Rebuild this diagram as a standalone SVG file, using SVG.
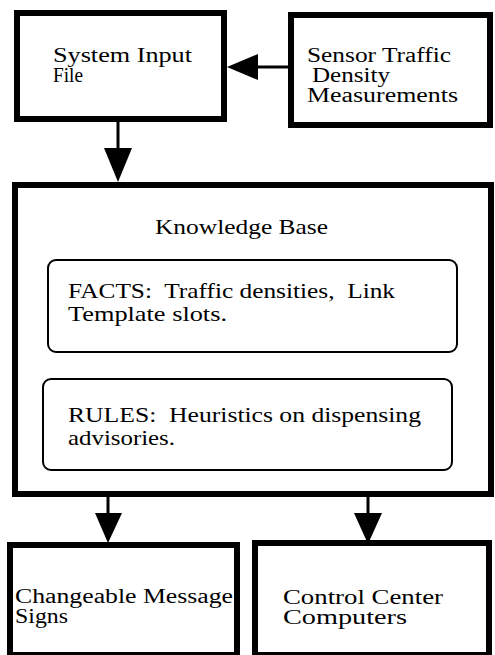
<svg xmlns="http://www.w3.org/2000/svg" width="495" height="655" viewBox="0 0 495 655">
<style>
.box{fill:#fff;stroke:#000;stroke-width:6}
.inner{fill:#fff;stroke:#000;stroke-width:2}
.t{font-family:"Liberation Serif","Times New Roman",serif;font-size:20px;fill:#000;white-space:pre}
.k{font-size:22px}
.ln{stroke:#000;stroke-width:3;fill:none}
.ah{fill:#000}
</style>
<rect width="495" height="655" fill="#fff"/>
<g id="connectors">
<line class="ln" x1="290" y1="67" x2="256" y2="67"/>
<polygon class="ah" points="227,67 258,54 258,80"/>
<line class="ln" x1="118" y1="122" x2="118" y2="150"/>
<polygon class="ah" points="104,148 132,148 118,182"/>
<line class="ln" x1="108" y1="496" x2="108" y2="515"/>
<polygon class="ah" points="95,513 122,513 108,543"/>
<line class="ln" x1="368" y1="496" x2="368" y2="515"/>
<polygon class="ah" points="354,513 382,513 368,544"/>
</g>
<g id="system-input-file">
<rect class="box" x="17" y="13" width="207" height="106"/>
<text class="t" x="53" y="62" textLength="139" lengthAdjust="spacingAndGlyphs">System Input</text>
<text class="t" x="53" y="82" textLength="30" lengthAdjust="spacingAndGlyphs">File</text>
</g>
<g id="sensor">
<rect class="box" x="291" y="15" width="199" height="110"/>
<text class="t" x="307" y="62" textLength="144" lengthAdjust="spacingAndGlyphs">Sensor Traffic</text>
<text class="t" x="312" y="82" textLength="78" lengthAdjust="spacingAndGlyphs">Density</text>
<text class="t" x="307" y="102" textLength="151" lengthAdjust="spacingAndGlyphs">Measurements</text>
</g>
<g id="knowledge-base">
<rect class="box" x="15" y="185" width="476" height="309"/>
<text class="t k" x="155" y="234" textLength="173" lengthAdjust="spacingAndGlyphs">Knowledge Base</text>
</g>
<g id="facts">
<rect class="inner" x="48" y="260" width="409" height="92" rx="8"/>
<text class="t k" x="68" y="298" textLength="327" lengthAdjust="spacingAndGlyphs">FACTS:  Traffic densities,  Link</text>
<text class="t k" x="68" y="321" textLength="159" lengthAdjust="spacingAndGlyphs">Template slots.</text>
</g>
<g id="rules">
<rect class="inner" x="43" y="379" width="409" height="91" rx="8"/>
<text class="t k" x="68" y="422" textLength="353" lengthAdjust="spacingAndGlyphs">RULES:  Heuristics on dispensing</text>
<text class="t k" x="68" y="445" textLength="107" lengthAdjust="spacingAndGlyphs">advisories.</text>
</g>
<g id="changeable-message-signs">
<rect class="box" x="10" y="545" width="227" height="110"/>
<text class="t" x="15" y="603" textLength="218" lengthAdjust="spacingAndGlyphs">Changeable Message</text>
<text class="t" x="15" y="623" textLength="53" lengthAdjust="spacingAndGlyphs">Signs</text>
</g>
<g id="control-center-computers">
<rect class="box" x="255" y="543" width="234" height="112"/>
<text class="t" x="283" y="604" textLength="160" lengthAdjust="spacingAndGlyphs">Control Center</text>
<text class="t" x="283" y="624" textLength="124" lengthAdjust="spacingAndGlyphs">Computers</text>
</g>
</svg>
